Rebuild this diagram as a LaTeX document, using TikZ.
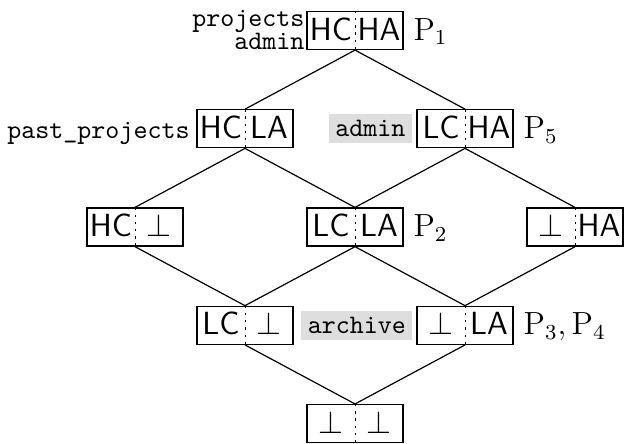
\documentclass[tikz,border=0pt]{standalone}
\usepackage{amsmath}
\usepackage{xcolor}
\usepackage{tikz}
\usetikzlibrary{positioning}
\definecolor{tagshade}{HTML}{DEDEDE}
\newcommand{\halves}[2]{\makebox[18pt]{#1}\makebox[18pt]{#2}}
\tikzset{
  pairbox/.style={draw=black, line width=0.5pt, fill=white, font=\large\sffamily, inner xsep=0pt, inner ysep=2.4pt, text height=8.3pt, text depth=1.1pt},
  divider/.style={line width=0.3pt, dash pattern=on 0.9pt off 1.8pt},
  link/.style={line width=0.45pt, draw=black},
  tagtext/.style={font=\ttfamily, inner xsep=2.3pt, inner ysep=0pt},
  graytag/.style={font=\ttfamily, fill=tagshade, inner xsep=2.4pt, inner ysep=2.3pt, text height=6.1pt, text depth=0pt},
  plabel/.style={font=\large, inner xsep=3.5pt, inner ysep=0pt},
}

\begin{document}
\begin{tikzpicture}[node distance=36.8pt and 41.2pt, on grid]
  \useasboundingbox (-132.95pt,11.42pt) rectangle (101.1pt,-154.85pt);

  % Lattice of confidentiality : availability pairs
  \node[pairbox] (hcha) at (0,0) {\halves{HC}{HA}};
  \node[pairbox, below left=of hcha] (hcla) {\halves{HC}{LA}};
  \node[pairbox, below right=of hcha] (lcha) {\halves{LC}{HA}};
  \node[pairbox, below left=of hcla] (hcbot) {\halves{HC}{$\bot$}};
  \node[pairbox, below right=of hcla] (lcla) {\halves{LC}{LA}};
  \node[pairbox, below right=of lcha] (botha) {\halves{$\bot$}{HA}};
  \node[pairbox, below left=of lcla] (lcbot) {\halves{LC}{$\bot$}};
  \node[pairbox, below right=of lcla] (botla) {\halves{$\bot$}{LA}};
  \node[pairbox, below right=of lcbot] (botbot) {\halves{$\bot$}{$\bot$}};

  % Dotted split inside every box
  \draw[divider] (hcha.north) -- (hcha.south);
  \draw[divider] (hcla.north) -- (hcla.south);
  \draw[divider] (lcha.north) -- (lcha.south);
  \draw[divider] (hcbot.north) -- (hcbot.south);
  \draw[divider] (lcla.north) -- (lcla.south);
  \draw[divider] (botha.north) -- (botha.south);
  \draw[divider] (lcbot.north) -- (lcbot.south);
  \draw[divider] (botla.north) -- (botla.south);
  \draw[divider] (botbot.north) -- (botbot.south);

  % Order edges
  \draw[link] (hcha.south) -- (hcla.north);
  \draw[link] (hcha.south) -- (lcha.north);
  \draw[link] (hcla.south) -- (hcbot.north);
  \draw[link] (hcla.south) -- (lcla.north);
  \draw[link] (lcha.south) -- (lcla.north);
  \draw[link] (lcha.south) -- (botha.north);
  \draw[link] (hcbot.south) -- (lcbot.north);
  \draw[link] (lcla.south) -- (lcbot.north);
  \draw[link] (lcla.south) -- (botla.north);
  \draw[link] (botha.south) -- (botla.north);
  \draw[link] (lcbot.south) -- (botbot.north);
  \draw[link] (botla.south) -- (botbot.north);

  % Resource tags
  \node[tagtext, align=right, anchor=south east, inner xsep=0.5pt] (toptag) at (hcha.south west) {projects\\[-3.5pt]admin};
  \node[tagtext, anchor=base east] (pasttag) at (hcla.base west) {past\_projects};
  \node[graytag, anchor=east] (admintag) at ([xshift=-1.5pt]lcha.west) {admin};
  \node[graytag, anchor=east] (archivetag) at ([xshift=-1.3pt]botla.west) {archive};

  % Principals
  \node[plabel, anchor=base west] (pone) at (hcha.base east) {$\mathrm{P}_1$};
  \node[plabel, anchor=base west] (pfive) at (lcha.base east) {$\mathrm{P}_5$};
  \node[plabel, anchor=base west] (ptwo) at (lcla.base east) {$\mathrm{P}_2$};
  \node[plabel, anchor=base west] (pthree) at (botla.base east) {$\mathrm{P}_3, \mathrm{P}_4$};
\end{tikzpicture}
\end{document}
